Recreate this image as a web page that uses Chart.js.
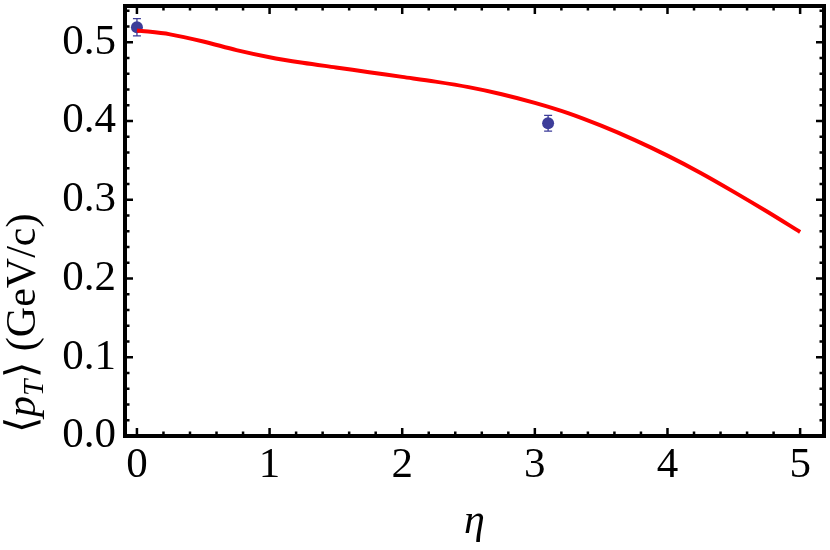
<!DOCTYPE html>
<html>
<head>
<meta charset="utf-8">
<script src="https://cdn.jsdelivr.net/npm/chart.js@4.4.0/dist/chart.umd.min.js"></script>
<style>
html,body{margin:0;padding:0;background:#ffffff;}
#pt_chart{display:block;}
</style>
</head>
<body>
<canvas id="pt_chart" width="830" height="550"></canvas>
<script>
// model curve <pT>(eta)
var curve_eta=[0,0.25,0.5,0.75,1.0,1.25,1.5,1.75,2.0,2.25,2.5,2.75,3.0,3.25,3.5,3.75,4.0,4.25,4.5,4.75,5.0];
var curve_pt=[0.515,0.510,0.501,0.490,0.481,0.474,0.468,0.462,0.456,0.450,0.443,0.434,0.423,0.410,0.394,0.376,0.356,0.334,0.310,0.285,0.259];
// measured points
var data_eta=[0,3.1];
var data_pt=[0.519,0.397];
var data_err=[0.011,0.010];
// ticks
var x_major=[0,1,2,3,4,5];
var x_minor=[0.2,0.4,0.6,0.8,1.2,1.4,1.6,1.8,2.2,2.4,2.6,2.8,3.2,3.4,3.6,3.8,4.2,4.4,4.6,4.8];
var y_major=[0,0.1,0.2,0.3,0.4,0.5];
var y_minor=[0.02,0.04,0.06,0.08,0.12,0.14,0.16,0.18,0.22,0.24,0.26,0.28,0.32,0.34,0.36,0.38,0.42,0.44,0.46,0.48,0.52,0.54];
var x_range=[-0.09,5.18];
var y_range=[0,0.546];
var y_title_parts=[["⟨","n",1],["p","i",1],["T","i",0.7],["⟩","n",1],[" (GeV/c)","n",1]];
var x_title="η";

var serif="'Liberation Serif','Times New Roman',serif";
var dot_color="rgb(61,61,153)";

function toXY(xs,ys){
    var out=[];
    for(var i=0;i<xs.length;i++){out.push({x:xs[i],y:ys[i]});}
    return out;
}
//********************************************** */
var errbar_plugin={
    id:'errbar',
    beforeDatasetsDraw(chart){
        var ctx=chart.ctx, xs=chart.scales.x, ys=chart.scales.y;
        ctx.save();
        ctx.strokeStyle=dot_color;
        ctx.lineWidth=1.3;
        for(var i=0;i<data_eta.length;i++){
            var px=xs.getPixelForValue(data_eta[i]);
            var top=ys.getPixelForValue(data_pt[i]+data_err[i]);
            var bot=ys.getPixelForValue(data_pt[i]-data_err[i]);
            ctx.beginPath();
            ctx.moveTo(px,top);ctx.lineTo(px,bot);
            ctx.moveTo(px-4,top);ctx.lineTo(px+4,top);
            ctx.moveTo(px-4,bot);ctx.lineTo(px+4,bot);
            ctx.stroke();
        }
        ctx.restore();
    }
};
//********************************************** */
var frame_plugin={
    id:'frame',
    afterDatasetsDraw(chart){
        var ctx=chart.ctx, a=chart.chartArea, xs=chart.scales.x, ys=chart.scales.y;
        ctx.save();
        ctx.strokeStyle='#000';
        ctx.lineWidth=2.5;
        ctx.beginPath();
        function xt(v,len){
            var p=xs.getPixelForValue(v);
            ctx.moveTo(p,a.bottom);ctx.lineTo(p,a.bottom-len);
            ctx.moveTo(p,a.top);ctx.lineTo(p,a.top+len);
        }
        function yt(v,len){
            var p=ys.getPixelForValue(v);
            ctx.moveTo(a.left,p);ctx.lineTo(a.left+len,p);
            ctx.moveTo(a.right,p);ctx.lineTo(a.right-len,p);
        }
        x_major.forEach(function(v){xt(v,8);});
        x_minor.forEach(function(v){xt(v,4.5);});
        y_major.forEach(function(v){yt(v,8);});
        y_minor.forEach(function(v){yt(v,4.5);});
        ctx.stroke();
        ctx.lineWidth=4;
        ctx.strokeRect(a.left,a.top,a.right-a.left,a.bottom-a.top);
        ctx.restore();
    },
    afterDraw(chart){
        // y axis title with italic p and subscript T
        var ctx=chart.ctx, a=chart.chartArea;
        ctx.save();
        ctx.translate(0,a.bottom-3);
        ctx.rotate(-Math.PI/2);
        ctx.fillStyle='#000';
        ctx.textBaseline='alphabetic';
        var u=0;
        for(var i=0;i<y_title_parts.length;i++){
            var part=y_title_parts[i];
            var size=42*part[2];
            ctx.font=(part[1]==="i"?"italic ":"")+size+"px "+serif;
            var v=part[2]<1?43:35;
            ctx.fillText(part[0],u,v);
            u+=ctx.measureText(part[0]).width+(part[0]==="T"?2:0);
        }
        ctx.restore();
    }
};
//********************************************** */
function InitChart(){
    var ctx=document.getElementById('pt_chart');
    return new Chart(ctx,{
        type:'line',
        data:{
            datasets:[
                {
                    label:'model',
                    data:toXY(curve_eta,curve_pt),
                    borderColor:'#ff0000',
                    borderWidth:4,
                    pointRadius:0,
                    cubicInterpolationMode:'monotone',
                    fill:false,
                },
                {
                    label:'data',
                    data:toXY(data_eta,data_pt),
                    showLine:false,
                    pointRadius:6,
                    pointBackgroundColor:dot_color,
                    pointBorderColor:dot_color,
                    pointBorderWidth:0,
                }
            ]
        },
        options:{
            responsive:false,
            animation:false,
            layout:{padding:{top:2.5,right:2.5,left:0,bottom:0}},
            plugins:{legend:{display:false},tooltip:{enabled:false}},
            scales:{
                x:{
                    type:'linear',
                    min:x_range[0],max:x_range[1],
                    afterBuildTicks:function(s){s.ticks=x_major.map(function(v){return {value:v};});},
                    afterFit:function(s){s.height=114;s.paddingLeft=0;s.paddingRight=0;},
                    grid:{display:false,drawTicks:false},
                    border:{display:false},
                    ticks:{
                        autoSkip:false,maxRotation:0,padding:4,color:'#000',
                        font:{family:serif,size:43},
                        callback:function(v){return String(v);}
                    },
                    title:{display:true,text:x_title,color:'#000',
                        font:{family:serif,size:42,style:'italic'},
                        padding:{top:0,bottom:3}}
                },
                y:{
                    type:'linear',
                    min:y_range[0],max:y_range[1],
                    afterBuildTicks:function(s){s.ticks=y_major.map(function(v){return {value:v};});},
                    afterFit:function(s){s.width=125;s.paddingTop=0;s.paddingBottom=0;},
                    grid:{display:false,drawTicks:false},
                    border:{display:false},
                    ticks:{
                        autoSkip:false,padding:9,color:'#000',
                        font:{family:serif,size:43},
                        callback:function(v){return v.toFixed(1);}
                    }
                }
            }
        },
        plugins:[errbar_plugin,frame_plugin]
    });
}
InitChart();
</script>
</body>
</html>
